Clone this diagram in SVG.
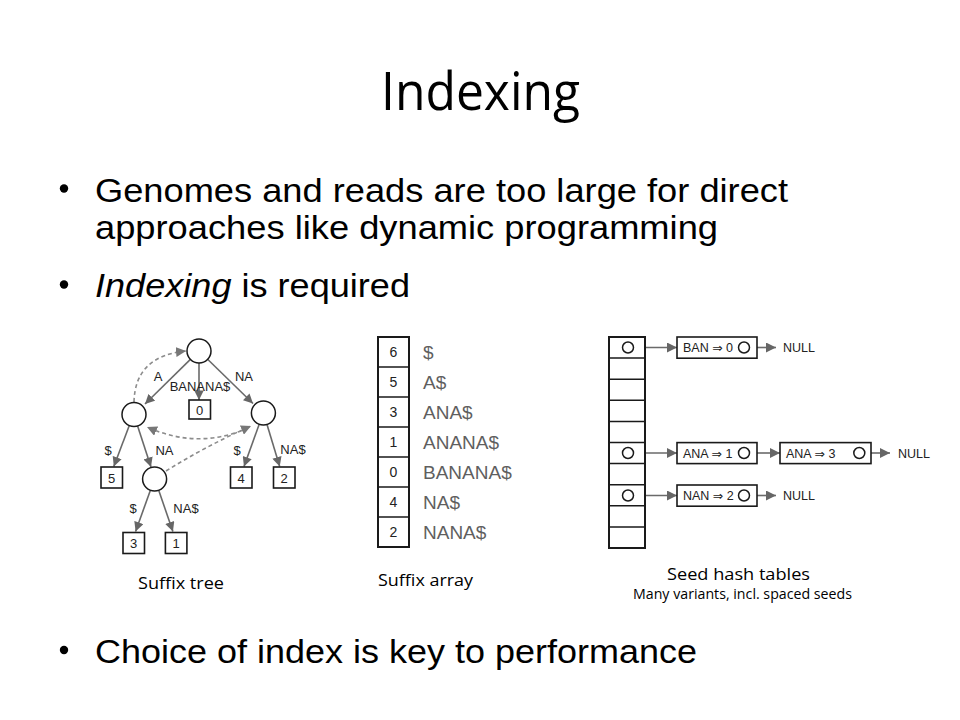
<svg xmlns="http://www.w3.org/2000/svg" width="960" height="720" viewBox="0 0 960 720">
<style>
.slide{font-family:"Open Sans","Noto Sans",sans-serif;fill:#000}
.bul{font-family:"Liberation Sans",Arial,sans-serif;fill:#000;font-size:32.5px}
.lbl{font-family:"Liberation Sans","DejaVu Sans",Arial,sans-serif;fill:#222}
.sfx{font-family:"Liberation Sans","DejaVu Sans",Arial,sans-serif;fill:#5f5f5f;font-size:19px}
.node{fill:#fff;stroke:#1a1a1a;stroke-width:1.5}
.box{fill:#fff;stroke:#1a1a1a;stroke-width:1.6}
.edge{fill:none;stroke:#6a6a6a;stroke-width:1.6}
.dash{fill:none;stroke:#8c8c8c;stroke-width:1.6;stroke-dasharray:4 3}
.cell{stroke:#1a1a1a;stroke-width:1.5;fill:none}
</style>
<defs>
<marker id="ah" viewBox="0 0 10 10" refX="10" refY="5" markerWidth="10" markerHeight="9.5" markerUnits="userSpaceOnUse" orient="auto">
<path d="M0,0 L10,5 L0,10 z" fill="#666"/>
</marker>
<marker id="ahd" viewBox="0 0 10 10" refX="10" refY="5" markerWidth="10" markerHeight="10" markerUnits="userSpaceOnUse" orient="auto">
<path d="M0,0 L10,5 L0,10 z" fill="#777"/>
</marker>
<marker id="ahh" viewBox="0 0 10 10" refX="10" refY="5" markerWidth="12" markerHeight="10" markerUnits="userSpaceOnUse" orient="auto">
<path d="M0,0 L10,5 L0,10 z" fill="#666"/>
</marker>
</defs>
<rect width="960" height="720" fill="#fff"/>

<g id="title">
<text class="slide" x="381" y="110" font-size="53" textLength="199" lengthAdjust="spacingAndGlyphs">Indexing</text>
</g>

<g id="bullets">
<circle cx="64" cy="188.5" r="4.2" fill="#000"/>
<text class="bul" x="95" y="202" textLength="693" lengthAdjust="spacingAndGlyphs">Genomes and reads are too large for direct</text>
<text class="bul" x="95" y="239" textLength="623" lengthAdjust="spacingAndGlyphs">approaches like dynamic programming</text>
<circle cx="64" cy="284.5" r="4.2" fill="#000"/>
<text class="bul" x="95" y="297" textLength="315" lengthAdjust="spacingAndGlyphs"><tspan font-style="italic">Indexing</tspan> is required</text>
<circle cx="64" cy="650" r="4.2" fill="#000"/>
<text class="bul" x="95" y="663" textLength="602" lengthAdjust="spacingAndGlyphs">Choice of index is key to performance</text>
</g>

<g id="connectors">
<!-- suffix tree edges -->
<line class="edge" x1="190.4" y1="359.4" x2="145" y2="404" marker-end="url(#ah)"/>
<line class="edge" x1="199" y1="363" x2="199" y2="400" marker-end="url(#ah)"/>
<line class="edge" x1="207.6" y1="359.3" x2="253" y2="403.5" marker-end="url(#ah)"/>
<line class="edge" x1="129.3" y1="425.5" x2="113.8" y2="466.5" marker-end="url(#ah)"/>
<line class="edge" x1="137.6" y1="425.9" x2="151" y2="467" marker-end="url(#ah)"/>
<line class="edge" x1="259.2" y1="424.3" x2="244" y2="466.5" marker-end="url(#ah)"/>
<line class="edge" x1="267" y1="424.5" x2="279.7" y2="466.5" marker-end="url(#ah)"/>
<line class="edge" x1="150.4" y1="490.2" x2="135.6" y2="531.5" marker-end="url(#ah)"/>
<line class="edge" x1="158.7" y1="490.3" x2="172.9" y2="531.5" marker-end="url(#ah)"/>
<!-- suffix links -->
<path class="dash" d="M134,402 Q135,356 186,351" marker-end="url(#ahd)"/>
<path class="dash" d="M248,428 Q198,450 147,427" marker-end="url(#ahd)"/>
<path class="dash" d="M166,471 Q206,446 251,426" marker-end="url(#ahd)"/>
<!-- hash table pointers -->
<line class="edge" x1="633.5" y1="347.5" x2="677" y2="347.5" marker-end="url(#ahh)"/>
<line class="edge" x1="749.5" y1="347.5" x2="776" y2="347.5" marker-end="url(#ahh)"/>
<line class="edge" x1="633.5" y1="453" x2="677" y2="453" marker-end="url(#ahh)"/>
<line class="edge" x1="749.5" y1="453" x2="780" y2="453" marker-end="url(#ahh)"/>
<line class="edge" x1="864.8" y1="453" x2="890" y2="453" marker-end="url(#ahh)"/>
<line class="edge" x1="633.5" y1="495.5" x2="677" y2="495.5" marker-end="url(#ahh)"/>
<line class="edge" x1="749.5" y1="495.5" x2="776" y2="495.5" marker-end="url(#ahh)"/>
</g>

<g id="suffix-tree">
<g id="n-root"><circle class="node" cx="199" cy="351" r="12"/></g>
<g id="n-A"><circle class="node" cx="134" cy="414.5" r="12"/></g>
<g id="n-NA"><circle class="node" cx="263.4" cy="413" r="12"/></g>
<g id="n-ANA"><circle class="node" cx="154.6" cy="479" r="12"/></g>
<g id="leaf-0"><rect class="box" x="189" y="400" width="21.5" height="19"/><text class="lbl" x="199.7" y="415" font-size="13" text-anchor="middle">0</text></g>
<g id="leaf-5"><rect class="box" x="101" y="467" width="21.5" height="21"/><text class="lbl" x="111.7" y="482.5" font-size="13" text-anchor="middle">5</text></g>
<g id="leaf-4"><rect class="box" x="230.5" y="467" width="21.5" height="21"/><text class="lbl" x="241.2" y="482.5" font-size="13" text-anchor="middle">4</text></g>
<g id="leaf-2"><rect class="box" x="273.5" y="467" width="21.5" height="21"/><text class="lbl" x="284.2" y="482.5" font-size="13" text-anchor="middle">2</text></g>
<g id="leaf-3"><rect class="box" x="123" y="532.5" width="21.5" height="21"/><text class="lbl" x="133.7" y="548" font-size="13" text-anchor="middle">3</text></g>
<g id="leaf-1"><rect class="box" x="165.4" y="532.5" width="21.5" height="21"/><text class="lbl" x="176.1" y="548" font-size="13" text-anchor="middle">1</text></g>
<g id="edge-labels" font-size="13">
<text class="lbl" x="158" y="380.5" text-anchor="middle">A</text>
<text class="lbl" x="200" y="390.5" text-anchor="middle">BANANA$</text>
<text class="lbl" x="244" y="380.5" text-anchor="middle">NA</text>
<text class="lbl" x="108" y="455" text-anchor="middle">$</text>
<text class="lbl" x="164.5" y="455" text-anchor="middle">NA</text>
<text class="lbl" x="237" y="455" text-anchor="middle">$</text>
<text class="lbl" x="293" y="454" text-anchor="middle">NA$</text>
<text class="lbl" x="133" y="513" text-anchor="middle">$</text>
<text class="lbl" x="186" y="513" text-anchor="middle">NA$</text>
</g>
<text class="slide" x="138" y="589" font-size="17" textLength="86" lengthAdjust="spacingAndGlyphs">Suffix tree</text>
</g>

<g id="suffix-array">
<rect x="378" y="337" width="31" height="210" fill="#fff" stroke="#1a1a1a" stroke-width="2"/>
<path class="cell" d="M378,367H409M378,397H409M378,427H409M378,457H409M378,487H409M378,517H409"/>
<g class="lbl" font-size="14" text-anchor="middle">
<text x="393.5" y="357">6</text>
<text x="393.5" y="387">5</text>
<text x="393.5" y="417">3</text>
<text x="393.5" y="447">1</text>
<text x="393.5" y="477">0</text>
<text x="393.5" y="507">4</text>
<text x="393.5" y="537">2</text>
</g>
<text class="sfx" x="423" y="359">$</text>
<text class="sfx" x="423" y="389">A$</text>
<text class="sfx" x="423" y="419">ANA$</text>
<text class="sfx" x="423" y="449">ANANA$</text>
<text class="sfx" x="423" y="479">BANANA$</text>
<text class="sfx" x="423" y="509">NA$</text>
<text class="sfx" x="423" y="539">NANA$</text>
<text class="slide" x="378" y="586" font-size="17" textLength="95" lengthAdjust="spacingAndGlyphs">Suffix array</text>
</g>

<g id="hash-table">
<rect x="609" y="337" width="36" height="211" fill="#fff" stroke="#1a1a1a" stroke-width="2"/>
<path class="cell" d="M609,358.1H645M609,379.2H645M609,400.3H645M609,421.4H645M609,442.5H645M609,463.6H645M609,484.7H645M609,505.8H645M609,526.9H645"/>
<circle class="node" cx="628" cy="347.5" r="5.5"/>
<circle class="node" cx="628" cy="453" r="5.5"/>
<circle class="node" cx="628" cy="495.5" r="5.5"/>
<g id="entry-BAN0">
<rect class="box" x="677" y="337" width="80" height="21.2"/>
<text class="lbl" x="683" y="352" font-size="12.5">BAN ⇒ 0</text>
<circle class="node" cx="744" cy="347.5" r="5.5"/>
</g>
<g id="entry-ANA1">
<rect class="box" x="677" y="442.6" width="80" height="21"/>
<text class="lbl" x="683" y="457.5" font-size="12.5">ANA ⇒ 1</text>
<circle class="node" cx="744" cy="453" r="5.5"/>
</g>
<g id="entry-ANA3">
<rect class="box" x="780" y="442.6" width="91" height="21"/>
<text class="lbl" x="786" y="457.5" font-size="12.5">ANA ⇒ 3</text>
<circle class="node" cx="859.3" cy="453" r="5.5"/>
</g>
<g id="entry-NAN2">
<rect class="box" x="677" y="485" width="80" height="21.2"/>
<text class="lbl" x="683" y="500" font-size="12.5">NAN ⇒ 2</text>
<circle class="node" cx="744" cy="495.5" r="5.5"/>
</g>
<text class="lbl" x="783" y="352" font-size="12.5">NULL</text>
<text class="lbl" x="898" y="457.5" font-size="12.5">NULL</text>
<text class="lbl" x="783" y="500" font-size="12.5">NULL</text>
<text class="slide" x="667" y="580" font-size="17" textLength="143" lengthAdjust="spacingAndGlyphs">Seed hash tables</text>
<text class="slide" x="633" y="599" font-size="14" textLength="219" lengthAdjust="spacingAndGlyphs">Many variants, incl. spaced seeds</text>
</g>
</svg>
